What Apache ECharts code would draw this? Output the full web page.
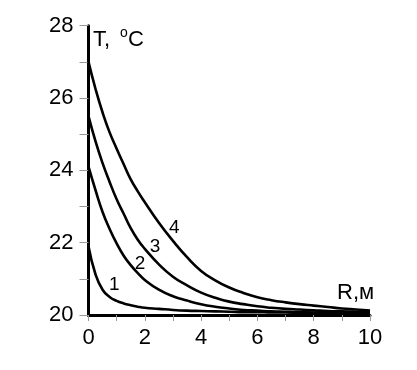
<!DOCTYPE html>
<html>
<head>
<meta charset="utf-8">
<script src="https://cdn.jsdelivr.net/npm/echarts@6/dist/echarts.min.js"></script>
<style>html,body{margin:0;padding:0;background:#fff;}#c{width:417px;height:370px;}</style>
</head>
<body>
<div id="c"></div>
<script>
var xs = [0,0.25,0.5,0.75,1,1.25,1.5,1.75,2,2.5,3,3.5,4,4.5,5,5.5,6,6.5,7,7.5,8,8.5,9,9.5,10];
var curve1 = [21.9,21.12,20.7,20.5,20.39,20.32,20.27,20.23,20.2,20.17,20.14,20.12,20.11,20.1,20.09,20.08,20.08,20.07,20.07,20.06,20.06,20.06,20.05,20.05,20.05];
var curve2 = [24.1,23.45,22.85,22.38,21.98,21.64,21.38,21.16,20.97,20.7,20.52,20.4,20.3,20.23,20.18,20.14,20.12,20.1,20.09,20.08,20.07,20.06,20.06,20.05,20.05];
var curve3 = [25.5,24.8,24.2,23.68,23.2,22.8,22.4,22.08,21.83,21.4,21.06,20.82,20.62,20.48,20.37,20.3,20.24,20.2,20.17,20.15,20.13,20.11,20.1,20.09,20.08];
var curve4 = [27.0,26.25,25.6,25.05,24.6,24.17,23.75,23.42,23.12,22.55,22.05,21.6,21.22,20.96,20.76,20.61,20.49,20.41,20.35,20.3,20.26,20.22,20.18,20.15,20.12];
var curveNames = ['1','2','3','4'];
var labelPos = [[0.92,20.83],[1.83,21.43],[2.36,21.89],[3.05,22.4]];
var xTitle = 'R,м';
var yTitle = ['T, ','o','C'];

var FONT = 'Liberation Sans, Arial, sans-serif';
function pairs(ys){ return xs.map(function(x,i){ return [x, ys[i]]; }); }
function lineSeries(ys){
  return {type:'line', data:pairs(ys), smooth:0.5, symbol:'none', clip:false,
    lineStyle:{color:'#000', width:2.6}, z:3};
}
var chart = echarts.init(document.getElementById('c'));
chart.setOption({
  animation:false,
  backgroundColor:'#fff',
  grid:{left:88.5, right:47, top:25.7, bottom:55, containLabel:false},
  xAxis:{type:'value', min:0, max:10, interval:2,
    axisLine:{show:true, onZero:false, lineStyle:{color:'#000', width:3}},
    axisTick:{show:true, length:6, lineStyle:{color:'#999', width:1}},
    minorTick:{show:true, splitNumber:2, length:6, lineStyle:{color:'#999', width:1}},
    splitLine:{show:false},
    axisLabel:{color:'#000', fontSize:22, fontFamily:FONT, margin:12}
  },
  yAxis:{type:'value', min:20, max:28, interval:2,
    axisLine:{show:true, onZero:false, lineStyle:{color:'#000', width:3}},
    axisTick:{show:true, length:9, lineStyle:{color:'#999', width:1}},
    minorTick:{show:true, splitNumber:2, length:9, lineStyle:{color:'#999', width:1}},
    splitLine:{show:false},
    axisLabel:{color:'#000', fontSize:22, fontFamily:FONT, margin:15}
  },
  graphic:[
    {type:'text', left:93, top:29, style:{text:yTitle[0], fontSize:22, fontFamily:FONT, fill:'#000'}},
    {type:'text', left:120, top:26, style:{text:yTitle[1], fontSize:14, fontFamily:FONT, fill:'#000'}},
    {type:'text', left:128, top:29, style:{text:yTitle[2], fontSize:22, fontFamily:FONT, fill:'#000'}},
    {type:'text', left:337, top:282, style:{text:xTitle, fontSize:22, fontFamily:FONT, fill:'#000'}}
  ],
  series:[
    lineSeries(curve1), lineSeries(curve2), lineSeries(curve3), lineSeries(curve4),
    {type:'scatter', symbolSize:0, silent:true, z:4,
      itemStyle:{color:'#000', opacity:1},
      data:labelPos.map(function(p,i){ return {value:p, name:curveNames[i]}; }),
      label:{show:true, position:'inside', formatter:'{b}', color:'#000', fontSize:19, fontFamily:FONT,
        textBorderWidth:0, textBorderColor:'transparent'}
    }
  ]
});
</script>
</body>
</html>
